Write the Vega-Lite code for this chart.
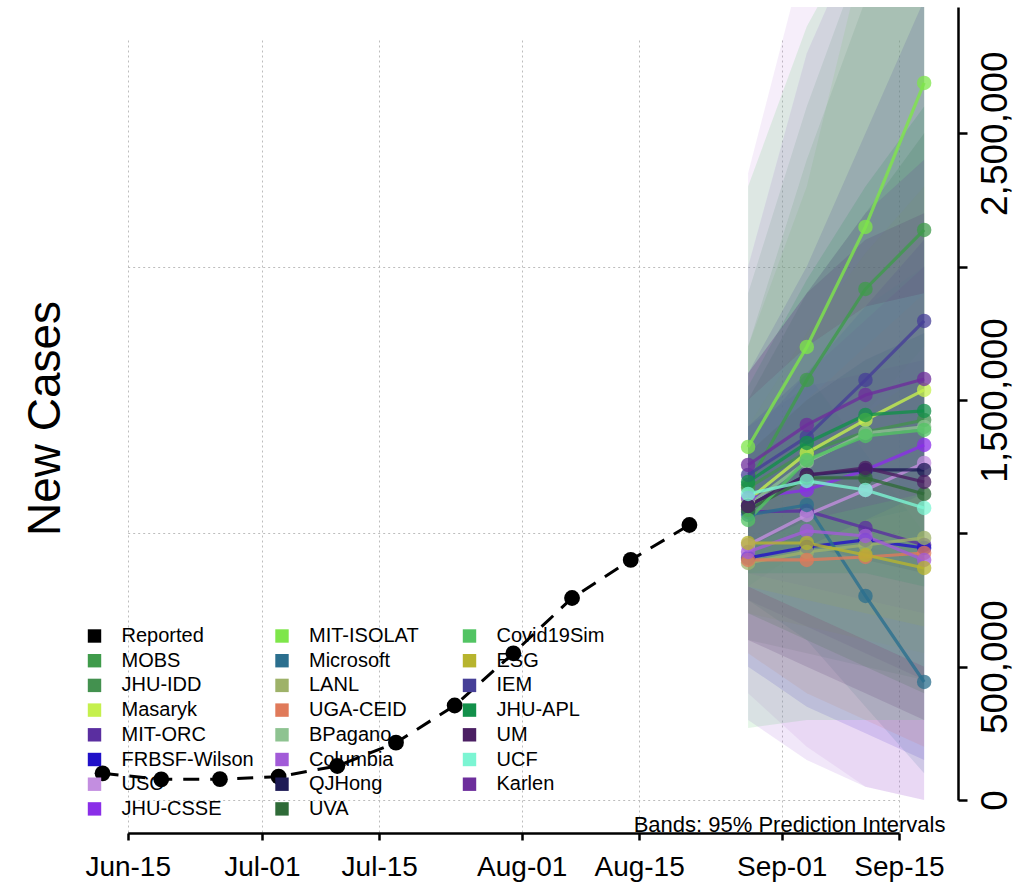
{
  "$schema": "https://vega.github.io/schema/vega-lite/v6.json",
  "width": 890,
  "height": 826,
  "autosize": "none",
  "padding": {"left": 68, "top": 7, "right": 73, "bottom": 54},
  "background": "white",
  "config": {"view": {"stroke": null}, "font": "Liberation Sans"},
  "datasets": {
    "reported": [
      {"model": "Reported", "date": "2020-06-12", "value": 100000},
      {"model": "Reported", "date": "2020-06-19", "value": 77600},
      {"model": "Reported", "date": "2020-06-26", "value": 78000},
      {"model": "Reported", "date": "2020-07-03", "value": 87400},
      {"model": "Reported", "date": "2020-07-10", "value": 127500},
      {"model": "Reported", "date": "2020-07-17", "value": 214800},
      {"model": "Reported", "date": "2020-07-24", "value": 354300},
      {"model": "Reported", "date": "2020-07-31", "value": 550000},
      {"model": "Reported", "date": "2020-08-07", "value": 757400},
      {"model": "Reported", "date": "2020-08-14", "value": 900000},
      {"model": "Reported", "date": "2020-08-21", "value": 1031000}
    ],
    "models": [
      {"model": "MIT-ISOLAT", "date": "2020-08-28", "value": 1323600, "low": 1000000, "high": 1700000},
      {"model": "MIT-ISOLAT", "date": "2020-09-04", "value": 1698500, "low": 1200000, "high": 2300000},
      {"model": "MIT-ISOLAT", "date": "2020-09-11", "value": 2148500, "low": 1450000, "high": 3200000},
      {"model": "MIT-ISOLAT", "date": "2020-09-18", "value": 2688400, "low": 1700000, "high": 4000000},
      {"model": "MOBS", "date": "2020-08-28", "value": 1181100, "low": 800000, "high": 1700000},
      {"model": "MOBS", "date": "2020-09-04", "value": 1574800, "low": 950000, "high": 2400000},
      {"model": "MOBS", "date": "2020-09-11", "value": 1916000, "low": 1050000, "high": 3000000},
      {"model": "MOBS", "date": "2020-09-18", "value": 2137200, "low": 1100000, "high": 3500000},
      {"model": "JHU-IDD", "date": "2020-08-28", "value": 1169800, "low": 600000, "high": 1900000},
      {"model": "JHU-IDD", "date": "2020-09-04", "value": 1304800, "low": 550000, "high": 2600000},
      {"model": "JHU-IDD", "date": "2020-09-11", "value": 1379800, "low": 500000, "high": 3200000},
      {"model": "JHU-IDD", "date": "2020-09-18", "value": 1424800, "low": 450000, "high": 3600000},
      {"model": "Masaryk", "date": "2020-08-28", "value": 1124900, "low": 850000, "high": 1400000},
      {"model": "Masaryk", "date": "2020-09-04", "value": 1301100, "low": 900000, "high": 1750000},
      {"model": "Masaryk", "date": "2020-09-11", "value": 1424800, "low": 950000, "high": 2050000},
      {"model": "Masaryk", "date": "2020-09-18", "value": 1537300, "low": 1000000, "high": 2300000},
      {"model": "MIT-ORC", "date": "2020-08-28", "value": 1079900, "low": 750000, "high": 1400000},
      {"model": "MIT-ORC", "date": "2020-09-04", "value": 1083600, "low": 650000, "high": 1550000},
      {"model": "MIT-ORC", "date": "2020-09-11", "value": 1019900, "low": 550000, "high": 1600000},
      {"model": "MIT-ORC", "date": "2020-09-18", "value": 956100, "low": 450000, "high": 1650000},
      {"model": "FRBSF-Wilson", "date": "2020-08-28", "value": 907400, "low": 500000, "high": 1350000},
      {"model": "FRBSF-Wilson", "date": "2020-09-04", "value": 948600, "low": 350000, "high": 1600000},
      {"model": "FRBSF-Wilson", "date": "2020-09-11", "value": 974900, "low": 250000, "high": 1850000},
      {"model": "FRBSF-Wilson", "date": "2020-09-18", "value": 944900, "low": 150000, "high": 2100000},
      {"model": "USC", "date": "2020-08-28", "value": 956100, "low": 400000, "high": 2350000},
      {"model": "USC", "date": "2020-09-04", "value": 1068600, "low": 200000, "high": 3200000},
      {"model": "USC", "date": "2020-09-11", "value": 1162300, "low": 50000, "high": 3500000},
      {"model": "USC", "date": "2020-09-18", "value": 1263600, "low": 0, "high": 3800000},
      {"model": "JHU-CSSE", "date": "2020-08-28", "value": 1132300, "low": 850000, "high": 1400000},
      {"model": "JHU-CSSE", "date": "2020-09-04", "value": 1162300, "low": 800000, "high": 1600000},
      {"model": "JHU-CSSE", "date": "2020-09-11", "value": 1237300, "low": 750000, "high": 1800000},
      {"model": "JHU-CSSE", "date": "2020-09-18", "value": 1331100, "low": 700000, "high": 2000000},
      {"model": "Microsoft", "date": "2020-08-28", "value": 1068600, "low": 750000, "high": 1400000},
      {"model": "Microsoft", "date": "2020-09-04", "value": 1106100, "low": 600000, "high": 1600000},
      {"model": "Microsoft", "date": "2020-09-11", "value": 764900, "low": 350000, "high": 1300000},
      {"model": "Microsoft", "date": "2020-09-18", "value": 442400, "low": 100000, "high": 1000000},
      {"model": "LANL", "date": "2020-08-28", "value": 888600, "low": 700000, "high": 1100000},
      {"model": "LANL", "date": "2020-09-04", "value": 929900, "low": 650000, "high": 1300000},
      {"model": "LANL", "date": "2020-09-11", "value": 956100, "low": 600000, "high": 1450000},
      {"model": "LANL", "date": "2020-09-18", "value": 982400, "low": 550000, "high": 1600000},
      {"model": "UGA-CEID", "date": "2020-08-28", "value": 899900, "low": 550000, "high": 1300000},
      {"model": "UGA-CEID", "date": "2020-09-04", "value": 899900, "low": 400000, "high": 1500000},
      {"model": "UGA-CEID", "date": "2020-09-11", "value": 911100, "low": 300000, "high": 1700000},
      {"model": "UGA-CEID", "date": "2020-09-18", "value": 926100, "low": 200000, "high": 1900000},
      {"model": "BPagano", "date": "2020-08-28", "value": 1106100, "low": 900000, "high": 1300000},
      {"model": "BPagano", "date": "2020-09-04", "value": 1267300, "low": 950000, "high": 1600000},
      {"model": "BPagano", "date": "2020-09-11", "value": 1376100, "low": 950000, "high": 1850000},
      {"model": "BPagano", "date": "2020-09-18", "value": 1398600, "low": 900000, "high": 2000000},
      {"model": "Columbia", "date": "2020-08-28", "value": 929900, "low": 300000, "high": 2000000},
      {"model": "Columbia", "date": "2020-09-04", "value": 1008600, "low": 150000, "high": 2800000},
      {"model": "Columbia", "date": "2020-09-11", "value": 989900, "low": 50000, "high": 3300000},
      {"model": "Columbia", "date": "2020-09-18", "value": 899900, "low": 0, "high": 3500000},
      {"model": "QJHong", "date": "2020-08-28", "value": 1102400, "low": 900000, "high": 1300000},
      {"model": "QJHong", "date": "2020-09-04", "value": 1218600, "low": 950000, "high": 1500000},
      {"model": "QJHong", "date": "2020-09-11", "value": 1237300, "low": 900000, "high": 1650000},
      {"model": "QJHong", "date": "2020-09-18", "value": 1237300, "low": 850000, "high": 1750000},
      {"model": "UVA", "date": "2020-08-28", "value": 1087400, "low": 700000, "high": 1500000},
      {"model": "UVA", "date": "2020-09-04", "value": 1207300, "low": 600000, "high": 1900000},
      {"model": "UVA", "date": "2020-09-11", "value": 1207300, "low": 500000, "high": 2200000},
      {"model": "UVA", "date": "2020-09-18", "value": 1147300, "low": 400000, "high": 2500000},
      {"model": "Covid19Sim", "date": "2020-08-28", "value": 1049900, "low": 270000, "high": 2300000},
      {"model": "Covid19Sim", "date": "2020-09-04", "value": 1274800, "low": 300000, "high": 2900000},
      {"model": "Covid19Sim", "date": "2020-09-11", "value": 1364800, "low": 300000, "high": 3300000},
      {"model": "Covid19Sim", "date": "2020-09-18", "value": 1387300, "low": 300000, "high": 3600000},
      {"model": "ESG", "date": "2020-08-28", "value": 963600, "low": 800000, "high": 1150000},
      {"model": "ESG", "date": "2020-09-04", "value": 963600, "low": 750000, "high": 1200000},
      {"model": "ESG", "date": "2020-09-11", "value": 918600, "low": 700000, "high": 1200000},
      {"model": "ESG", "date": "2020-09-18", "value": 869900, "low": 650000, "high": 1150000},
      {"model": "IEM", "date": "2020-08-28", "value": 1218600, "low": 900000, "high": 1600000},
      {"model": "IEM", "date": "2020-09-04", "value": 1361100, "low": 950000, "high": 2000000},
      {"model": "IEM", "date": "2020-09-11", "value": 1574800, "low": 1050000, "high": 2500000},
      {"model": "IEM", "date": "2020-09-18", "value": 1796000, "low": 1150000, "high": 3000000},
      {"model": "JHU-APL", "date": "2020-08-28", "value": 1192300, "low": 850000, "high": 1550000},
      {"model": "JHU-APL", "date": "2020-09-04", "value": 1338600, "low": 850000, "high": 1950000},
      {"model": "JHU-APL", "date": "2020-09-11", "value": 1443600, "low": 850000, "high": 2300000},
      {"model": "JHU-APL", "date": "2020-09-18", "value": 1458600, "low": 800000, "high": 2600000},
      {"model": "UM", "date": "2020-08-28", "value": 1102400, "low": 600000, "high": 1600000},
      {"model": "UM", "date": "2020-09-04", "value": 1218600, "low": 500000, "high": 1900000},
      {"model": "UM", "date": "2020-09-11", "value": 1244800, "low": 400000, "high": 2100000},
      {"model": "UM", "date": "2020-09-18", "value": 1192300, "low": 300000, "high": 2200000},
      {"model": "UCF", "date": "2020-08-28", "value": 1147300, "low": 800000, "high": 1500000},
      {"model": "UCF", "date": "2020-09-04", "value": 1196100, "low": 700000, "high": 1700000},
      {"model": "UCF", "date": "2020-09-11", "value": 1162300, "low": 600000, "high": 1850000},
      {"model": "UCF", "date": "2020-09-18", "value": 1094900, "low": 500000, "high": 1900000},
      {"model": "Karlen", "date": "2020-08-28", "value": 1256100, "low": 950000, "high": 1600000},
      {"model": "Karlen", "date": "2020-09-04", "value": 1406100, "low": 1050000, "high": 1900000},
      {"model": "Karlen", "date": "2020-09-11", "value": 1518500, "low": 1100000, "high": 2200000},
      {"model": "Karlen", "date": "2020-09-18", "value": 1578500, "low": 1150000, "high": 2400000}
    ]
  },
  "encoding": {
    "x": {
      "field": "date",
      "type": "temporal",
      "scale": {
        "type": "utc",
        "domain": [
          {"year": 2020, "month": 6, "date": 15, "utc": true},
          {"year": 2020, "month": 9, "date": 15, "utc": true}
        ],
        "range": [59.7, 831],
        "nice": false
      },
      "axis": {
        "title": "Bands: 95% Prediction Intervals",
        "titleX": 877,
        "titleY": -2,
        "titleAlign": "right",
        "titleAnchor": null,
        "titleBaseline": "alphabetic",
        "titleFontSize": 22,
        "titleFontWeight": "normal",
        "titleColor": "#000000",
        "values": [
          {"year": 2020, "month": 6, "date": 15, "utc": true},
          {"year": 2020, "month": 7, "date": 1, "utc": true},
          {"year": 2020, "month": 7, "date": 15, "utc": true},
          {"year": 2020, "month": 8, "date": 1, "utc": true},
          {"year": 2020, "month": 8, "date": 15, "utc": true},
          {"year": 2020, "month": 9, "date": 1, "utc": true},
          {"year": 2020, "month": 9, "date": 15, "utc": true}
        ],
        "labelExpr": "utcFormat(datum.value, '%b-%d')",
        "labelFontSize": 28,
        "labelColor": "#000000",
        "labelPadding": 13,
        "labelFlush": false,
        "labelOverlap": false,
        "tickSize": 7,
        "tickWidth": 2.5,
        "tickColor": "#000000",
        "domainColor": "#000000",
        "domainWidth": 2.5,
        "grid": true,
        "gridColor": "#bdbdbd",
        "gridDash": [2, 3],
        "gridWidth": 1
      }
    },
    "color": {
      "field": "model",
      "type": "nominal",
      "scale": {
        "domain": ["Reported", "MOBS", "JHU-IDD", "Masaryk", "MIT-ORC", "FRBSF-Wilson", "USC", "JHU-CSSE", "MIT-ISOLAT", "Microsoft", "LANL", "UGA-CEID", "BPagano", "Columbia", "QJHong", "UVA", "Covid19Sim", "ESG", "IEM", "JHU-APL", "UM", "UCF", "Karlen"],
        "range": ["#000000", "#3f9b4b", "#43914f", "#c5f04d", "#5a2ea0", "#2010c8", "#c38ee0", "#8a2ee8", "#7ee64a", "#2b6f8e", "#9eb269", "#e07a5a", "#8ec391", "#a25bd8", "#1d1a55", "#2f6b38", "#52c463", "#b7b42e", "#463f97", "#12904a", "#4b1f63", "#7cf5d3", "#6d2e9c"]
      },
      "legend": {
        "orient": "none",
        "legendX": 16.5,
        "legendY": 619,
        "title": null,
        "columns": 3,
        "gridAlign": "all",
        "columnPadding": 17.5,
        "rowPadding": 4.7,
        "padding": 0,
        "symbolType": "square",
        "symbolSize": 180,
        "symbolOpacity": 1,
        "symbolStrokeWidth": 0,
        "labelFontSize": 20,
        "labelColor": "#000000",
        "labelOffset": 17,
        "labelLimit": 200
      }
    }
  },
  "layer": [
    {
      "data": {"name": "models"},
      "mark": {"type": "area", "clip": true, "opacity": 0.15, "interpolate": "linear"},
      "encoding": {
        "y": {
          "field": "low",
          "type": "quantitative",
          "stack": null,
          "scale": {"domain": [0, 2973000], "range": [793, 0], "nice": false, "zero": false},
          "axis": {
            "orient": "left",
            "title": "New Cases",
            "titleX": -9,
            "titleY": 411,
            "titleAngle": -90,
            "titleAlign": "center",
            "titleAnchor": null,
            "titleBaseline": "alphabetic",
            "titleFontSize": 46,
            "titleFontWeight": "normal",
            "titleColor": "#000000",
            "values": [0, 1000000, 2000000],
            "labels": false,
            "ticks": false,
            "domain": false,
            "grid": true,
            "gridColor": "#bdbdbd",
            "gridDash": [2, 3],
            "gridWidth": 1
          }
        },
        "y2": {"field": "high"}
      }
    },
    {
      "data": {"name": "reported"},
      "mark": {"type": "line", "strokeWidth": 3, "strokeDash": [16, 11]},
      "encoding": {
        "y": {
          "field": "value",
          "type": "quantitative",
          "scale": {"domain": [0, 2973000], "range": [793, 0], "nice": false, "zero": false},
          "axis": {
            "orient": "right",
            "title": null,
            "values": [0, 500000, 1000000, 1500000, 2000000, 2500000],
            "labelExpr": "datum.value == 1000000 || datum.value == 2000000 ? '' : format(datum.value, ',')",
            "labelAngle": -90,
            "labelAlign": "center",
            "labelBaseline": "top",
            "labelFontSize": 37,
            "labelColor": "#000000",
            "labelPadding": 10,
            "labelFlush": false,
            "labelOverlap": false,
            "tickSize": 9,
            "tickWidth": 2.5,
            "tickColor": "#000000",
            "domainColor": "#000000",
            "domainWidth": 2.5,
            "grid": false
          }
        }
      }
    },
    {
      "data": {"name": "reported"},
      "mark": {"type": "point", "filled": true, "shape": "circle", "size": 250, "opacity": 1},
      "encoding": {
        "y": {"field": "value", "type": "quantitative", "scale": {"domain": [0, 2973000], "range": [793, 0], "nice": false, "zero": false}, "axis": null}
      }
    },
    {
      "data": {"name": "models"},
      "mark": {"type": "line", "strokeWidth": 3.2, "opacity": 0.8},
      "encoding": {
        "y": {"field": "value", "type": "quantitative", "scale": {"domain": [0, 2973000], "range": [793, 0], "nice": false, "zero": false}, "axis": null}
      }
    },
    {
      "data": {"name": "models"},
      "mark": {"type": "point", "filled": true, "shape": "circle", "size": 210, "opacity": 0.75},
      "encoding": {
        "y": {"field": "value", "type": "quantitative", "scale": {"domain": [0, 2973000], "range": [793, 0], "nice": false, "zero": false}, "axis": null}
      }
    }
  ],
  "resolve": {"axis": {"y": "independent"}}
}
